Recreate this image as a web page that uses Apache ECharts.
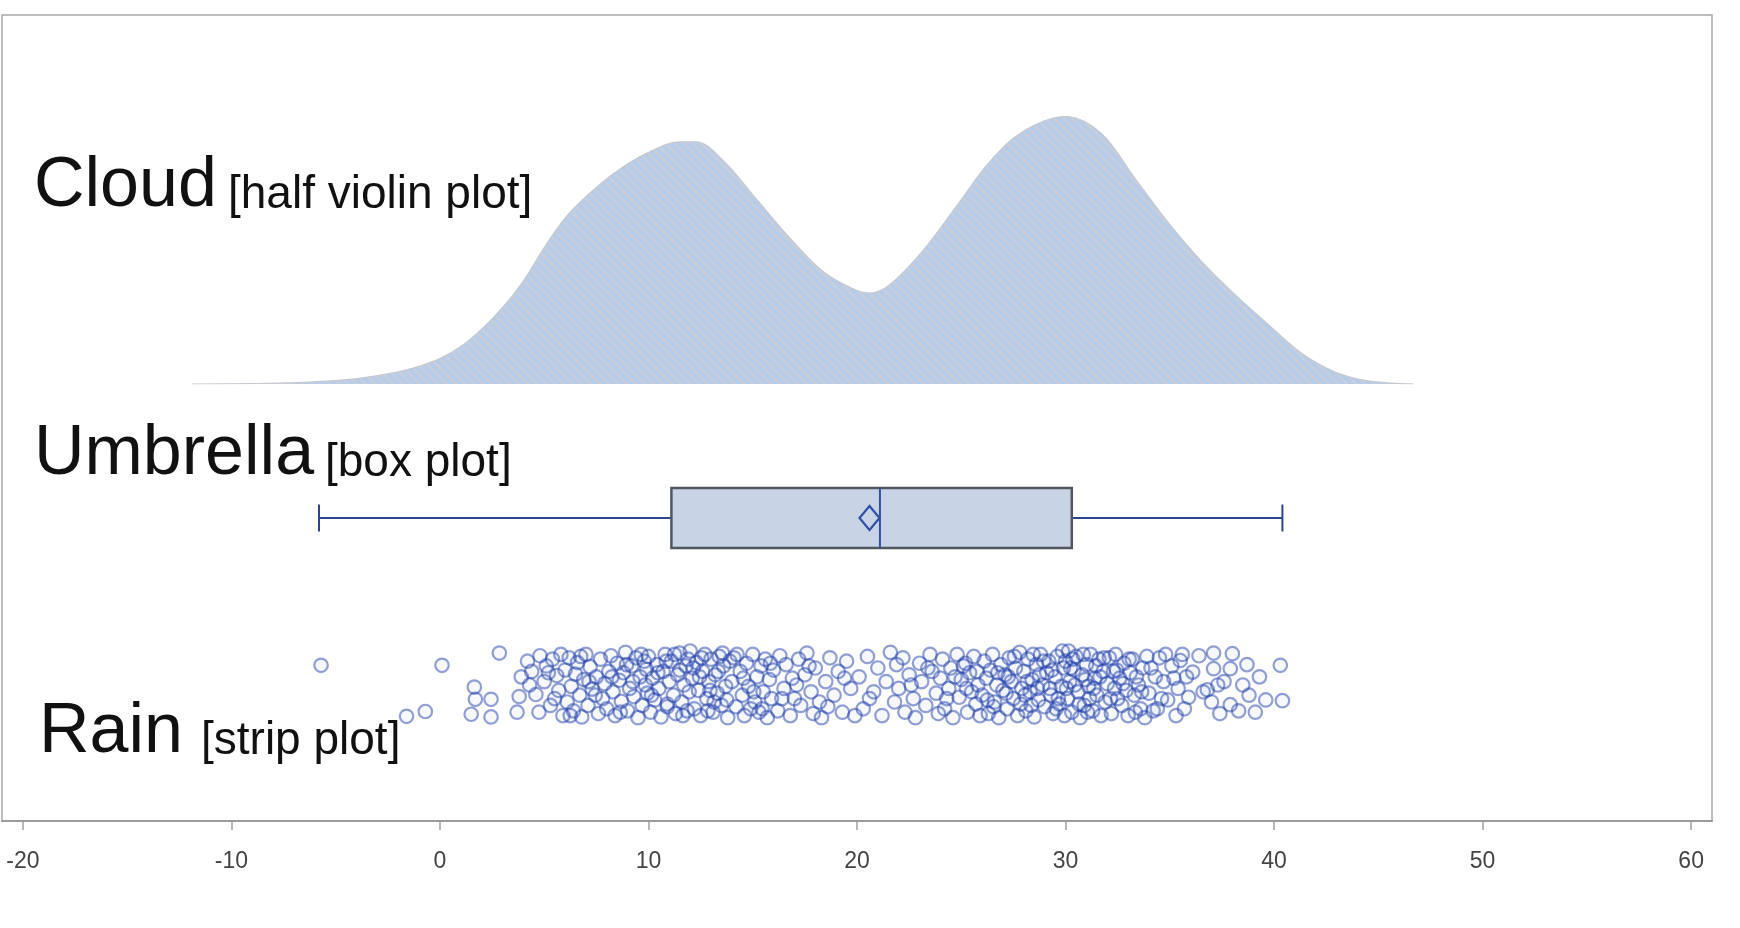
<!DOCTYPE html>
<html>
<head>
<meta charset="utf-8">
<script src="https://cdn.jsdelivr.net/npm/echarts@6/dist/echarts.min.js"></script>
<style>
  html, body { margin: 0; padding: 0; background: #fff; }
  #chart { width: 1740px; height: 928px; }
</style>
</head>
<body>
<div id="chart"></div>
<script>
// ---- data ----
const xTicks = [-20, -10, 0, 10, 20, 30, 40, 50, 60];

// Kernel density of the sample (relative height, peak = 1)
const cloudDensity = [
  [-11.9, 0], [-8.5, 0.002], [-6.5, 0.006], [-4, 0.02], [-2, 0.045], [-1, 0.066],
  [0, 0.095], [1, 0.14], [2, 0.205], [3, 0.285], [4, 0.385], [5, 0.51], [6, 0.62],
  [7, 0.70], [8.3, 0.785], [9.9, 0.862], [11.5, 0.905], [12.3, 0.905], [13.6, 0.834],
  [15.2, 0.689], [16.8, 0.544], [18.4, 0.419], [20, 0.349], [20.6, 0.34], [21.6, 0.373],
  [23.2, 0.502], [24.8, 0.668], [26.4, 0.834], [28, 0.946], [30, 1.0], [31.7, 0.938],
  [33.3, 0.772], [34.9, 0.606], [36.5, 0.46], [38.1, 0.336], [39.7, 0.224],
  [41.3, 0.116], [42.9, 0.046], [44.5, 0.012], [46.7, 0]
];

// Box plot summary: min, Q1, median, Q3, max, and the mean
const boxStats = [-5.8, 11.1, 21.1, 30.3, 40.4];
const boxMean = 20.6;

// Raw observations: [value, vertical jitter 0..1]
const rainPoints = [
  [-5.7,0.79],
  [-1.6,0.04],[-0.7,0.11],
  [0.1,0.79],[1.5,0.07],[1.65,0.47],[1.7,0.29],
  [2.45,0.29],[2.45,0.03],[2.85,0.97],[3.7,0.10],[3.8,0.33],[3.9,0.62],
  [4.6,0.36],[4.75,0.10],[4.2,0.85],[4.4,0.70],[4.8,0.93],[5.0,0.55],[5.1,0.78],[5.3,0.20],[5.4,0.88],[5.6,0.64],[5.7,0.42],[5.8,0.95],[5.9,0.05],[5.5,0.30],
  [6.0,0.72],[6.1,0.25],[6.2,0.90],[6.3,0.48],[6.4,0.12],[6.5,0.66],[6.6,0.83],[6.7,0.35],[6.8,0.03],[6.9,0.58],[7.0,0.95],[7.1,0.20],[7.2,0.77],[7.3,0.44],[7.5,0.62],[7.6,0.08],[7.7,0.88],[7.8,0.30],[7.9,0.52],
  [8.0,0.15],[8.1,0.70],[8.2,0.93],[8.3,0.40],[8.4,0.05],[8.5,0.82],[8.6,0.57],[8.7,0.26],[8.8,0.68],[8.9,0.98],[9.0,0.12],[9.1,0.45],[9.2,0.78],[9.3,0.33],[9.4,0.90],[9.5,0.02],[9.6,0.62],[9.7,0.20],[9.8,0.85],[9.85,0.50],[9.9,0.73],[9.95,0.38],
  [10.0,0.92],[10.1,0.10],[10.2,0.60],[10.3,0.28],[10.4,0.80],[10.5,0.45],[10.6,0.03],[10.7,0.70],[10.8,0.95],[10.9,0.18],[11.0,0.55],[11.1,0.85],[11.2,0.35],[11.3,0.08],[11.4,0.65],[11.5,0.97],[11.6,0.25],[11.7,0.50],[11.8,0.78],[11.85,0.12],[11.9,0.88],[11.95,0.40],[11.5,0.72],[10.9,0.22],
  [12.0,1.0],[12.1,0.60],[12.2,0.15],[12.3,0.83],[12.4,0.42],[12.5,0.05],[12.6,0.70],[12.7,0.95],[12.8,0.30],[12.9,0.55],[13.0,0.88],[13.1,0.10],[13.2,0.65],[13.3,0.38],[13.4,0.92],[13.5,0.20],[13.6,0.78],[13.7,0.48],[13.8,0.02],[13.9,0.85],[12.45,0.62],[13.15,0.25],[13.55,0.97],[12.85,0.12],
  [14.0,0.55],[14.1,0.90],[14.2,0.18],[14.4,0.70],[14.5,0.35],[14.6,0.05],[14.7,0.82],[14.8,0.48],[15.0,0.95],[15.1,0.25],[15.2,0.62],[15.3,0.10],[15.4,0.78],[15.5,0.40],[15.6,0.88],[15.7,0.02],[15.8,0.58],[15.9,0.30],[14.9,0.15],
  [16.0,0.72],[16.2,0.12],[16.3,0.93],[16.5,0.45],[16.6,0.80],[16.8,0.05],[16.9,0.60],[17.0,0.30],[17.2,0.88],[17.3,0.20],[17.5,0.65],[17.6,0.97],[17.8,0.40],[17.9,0.08],
  [18.0,0.75],[18.2,0.25],[18.3,0.02],[18.5,0.55],[18.7,0.90],[18.9,0.35],[19.1,0.70],[19.3,0.10],[19.5,0.85],[19.7,0.45],[19.9,0.05],
  [20.1,0.62],[20.3,0.15],[20.5,0.92],[20.8,0.40],[21.0,0.75],[21.2,0.05],[21.4,0.55],[21.6,0.98],[21.8,0.25],[21.9,0.80],
  [22.0,0.45],[22.2,0.90],[22.3,0.10],[22.5,0.65],[22.7,0.30],[22.8,0.02],[23.0,0.82],[23.1,0.55],[23.3,0.20],[23.5,0.95],[23.6,0.70],[23.8,0.38],[23.9,0.08],
  [24.0,0.60],[24.1,0.88],[24.2,0.15],[24.4,0.45],[24.5,0.75],[24.6,0.02],[24.8,0.95],[24.9,0.32],[25.0,0.58],[25.2,0.82],[25.3,0.10],[25.4,0.68],[25.5,0.40],[25.6,0.92],[25.7,0.22],[25.8,0.50],[25.9,0.05],[25.1,0.78],
  [26.0,0.35],[26.1,0.85],[26.2,0.60],[26.3,0.08],[26.4,0.72],[26.5,0.95],[26.6,0.25],[26.7,0.50],[26.8,0.02],[26.9,0.80],[27.0,0.42],[27.1,0.65],[27.2,0.15],[27.3,0.90],[27.4,0.55],[27.5,0.30],[27.6,0.75],[27.7,0.05],[27.8,0.98],[27.9,0.45],[26.55,0.18],[27.25,0.62],[27.85,0.22],
  [28.0,0.70],[28.1,0.12],[28.2,0.88],[28.3,0.40],[28.4,0.58],[28.5,0.03],[28.6,0.80],[28.7,0.28],[28.8,0.95],[28.9,0.50],[29.0,0.18],[29.1,0.68],[29.2,0.85],[29.3,0.35],[29.4,0.08],[29.5,0.62],[29.6,0.92],[29.7,0.22],[29.8,0.48],[29.9,0.75],[28.15,0.55],[28.75,0.65],[29.25,0.45],[29.55,0.15],[29.85,1.0],[28.45,0.95],
  [30.0,0.85],[30.1,0.30],[30.15,1.0],[30.2,0.55],[30.3,0.10],[30.4,0.72],[30.5,0.92],[30.6,0.40],[30.7,0.02],[30.8,0.65],[30.9,0.20],[31.0,0.80],[31.1,0.48],[31.2,0.95],[31.3,0.12],[31.4,0.60],[31.5,0.35],[31.6,0.88],[31.7,0.05],[31.8,0.70],[31.9,0.25],[30.45,0.50],[30.95,0.58],[31.45,0.78],[31.15,0.30],[30.25,0.75],
  [32.0,0.52],[32.1,0.90],[32.2,0.08],[32.3,0.70],[32.4,0.95],[32.5,0.30],[32.6,0.60],[32.7,0.20],[32.8,0.82],[32.9,0.42],[33.0,0.05],[33.1,0.68],[33.2,0.88],[33.3,0.35],[33.5,0.50],[33.6,0.15],[33.7,0.75],[33.8,0.02],[33.9,0.92],[32.35,0.45],[33.4,0.62],
  [34.0,0.38],[34.1,0.75],[34.2,0.12],[34.4,0.15],[34.5,0.90],[34.7,0.55],[34.9,0.28],[35.1,0.78],[35.3,0.05],[35.4,0.45],[35.5,0.86],[35.7,0.15],[35.8,0.62],[35.9,0.32],[34.8,0.95],
  [36.1,0.69],[36.4,0.93],[36.8,0.43],[37.0,0.25],[37.1,0.97],[37.1,0.74],[37.4,0.08],[37.6,0.55],[37.9,0.21],[37.9,0.74],[38.0,0.96],
  [38.5,0.50],[38.3,0.12],[38.8,0.35],[39.1,0.10],[38.7,0.80],[39.3,0.62],[39.6,0.28],
  [40.3,0.79],[40.4,0.27],
  [4.3,0.50],[5.2,0.68],[6.25,0.05],[6.75,0.92],[7.15,0.55],[7.45,0.35],[8.25,0.62],[8.65,0.10],[8.95,0.80],[9.25,0.55],[9.65,0.95],
  [10.15,0.35],[10.45,0.68],[10.85,0.85],[11.25,0.95],[11.65,0.05],[12.15,0.75],[12.55,0.90],[12.95,0.42],[13.35,0.70],[13.75,0.28],
  [14.25,0.95],[14.55,0.60],[15.05,0.40],[15.45,0.15],[15.85,0.82],[16.4,0.30],[17.1,0.50],[17.7,0.78],[18.6,0.18],[19.4,0.60],
  [20.6,0.30],[22.6,0.50],[23.4,0.75],[24.3,0.30],[24.7,0.62],[25.25,0.45],[25.75,0.70],[26.25,0.28],[26.75,0.68],[27.15,0.38],
  [27.55,0.92],[28.05,0.35],[28.35,0.20],[28.65,0.45],[28.95,0.85],[29.35,0.72],[29.65,0.30],[29.95,0.05],[30.05,0.45],[30.35,0.88],
  [30.65,0.22],[30.85,0.95],[31.05,0.10],[31.35,0.45],[31.65,0.62],[31.85,0.90],[32.15,0.30],[32.45,0.72],[32.75,0.52],[33.05,0.88],
  [33.35,0.10],[33.65,0.40],[34.3,0.62],[34.6,0.30],[35.2,0.60],[35.6,0.95],[36.6,0.40],[37.3,0.50]
];

const rowLabels = ['Cloud', 'Umbrella', 'Rain'];
const rowNotes = ['[half violin plot]', '[box plot]', '[strip plot]'];

// ---- styling helpers ----
const X_MIN = -21, X_MAX = 61;
const GRID_LEFT = 2, GRID_RIGHT = 28;
const FONT = '"Liberation Sans", Arial, Helvetica, sans-serif';
const BOX_FILL = '#c9d3e6';
const BLUE = '#3050a6';

// Diagonal hatch used to fill the density cloud
function hatchPattern() {
  const s = 9;
  const c = document.createElement('canvas');
  c.width = c.height = s;
  const g = c.getContext('2d');
  g.fillStyle = '#b6cdea';
  g.fillRect(0, 0, s, s);
  g.strokeStyle = '#c8cedb';
  g.lineWidth = 2.5;
  g.beginPath();
  for (const o of [-s, 0, s]) { g.moveTo(o, 0); g.lineTo(o + s, s); }
  g.stroke();
  return c;
}

function hiddenX(gridIndex) {
  return { type: 'value', gridIndex, min: X_MIN, max: X_MAX, show: false };
}

const chart = echarts.init(document.getElementById('chart'), null, { renderer: 'canvas' });

const option = {
  animation: false,
  backgroundColor: '#fff',
  grid: [
    // frame with the shared value axis
    { left: GRID_LEFT, right: GRID_RIGHT, top: 15, bottom: 107, show: true,
      borderColor: '#a8a8a8', borderWidth: 1.5, backgroundColor: 'transparent' },
    // cloud
    { left: GRID_LEFT, right: GRID_RIGHT, top: 116.5, bottom: 928 - 384 },
    // umbrella
    { left: GRID_LEFT, right: GRID_RIGHT, top: 470, bottom: 928 - 566 },
    // rain
    { left: GRID_LEFT, right: GRID_RIGHT, top: 651, bottom: 928 - 719 }
  ],
  xAxis: [
    {
      type: 'value', gridIndex: 0, min: X_MIN, max: X_MAX,
      splitLine: { show: false },
      axisLine: { show: true, lineStyle: { color: '#9c9c9c', width: 2 } },
      axisTick: { show: true, length: 9, customValues: xTicks, lineStyle: { color: '#a0a0a0', width: 1.5 } },
      axisLabel: { show: true, customValues: xTicks, margin: 29, color: '#444', fontSize: 23, fontFamily: FONT }
    },
    hiddenX(1), hiddenX(2), hiddenX(3)
  ],
  yAxis: [
    { type: 'value', gridIndex: 0, min: 0, max: 1, show: false },
    { type: 'value', gridIndex: 1, min: 0, max: 1, show: false },
    { type: 'category', gridIndex: 2, data: ['Umbrella'], show: false },
    { type: 'value', gridIndex: 3, min: 0, max: 1, show: false }
  ],
  series: [
    {
      name: 'Cloud', type: 'line', xAxisIndex: 1, yAxisIndex: 1,
      data: cloudDensity, smooth: 0.35, symbol: 'none',
      lineStyle: { color: '#c6c8cf', width: 1.2 },
      areaStyle: { color: { image: hatchPattern(), repeat: 'repeat' }, opacity: 1 },
      silent: true
    },
    {
      name: 'Umbrella', type: 'custom', xAxisIndex: 2, yAxisIndex: 2,
      data: [[0, ...boxStats, boxMean]],
      encode: { y: 0, x: [1, 2, 3, 4, 5, 6] },
      silent: true,
      renderItem(params, api) {
        const cat = api.value(0);
        const cy = api.coord([api.value(1), cat])[1];
        const px = i => api.coord([api.value(i), cat])[0];
        const xMin = px(1), xQ1 = px(2), xMed = px(3), xQ3 = px(4), xMax = px(5), xMean = px(6);
        const hb = 30, hc = 13.5;
        const whisker = { stroke: '#2d4590', lineWidth: 2 };
        return {
          type: 'group',
          children: [
            { type: 'line', shape: { x1: xMin, y1: cy, x2: xQ1, y2: cy }, style: whisker },
            { type: 'line', shape: { x1: xQ3, y1: cy, x2: xMax, y2: cy }, style: whisker },
            { type: 'line', shape: { x1: xMin, y1: cy - hc, x2: xMin, y2: cy + hc }, style: whisker },
            { type: 'line', shape: { x1: xMax, y1: cy - hc, x2: xMax, y2: cy + hc }, style: whisker },
            { type: 'rect', shape: { x: xQ1, y: cy - hb, width: xQ3 - xQ1, height: 2 * hb },
              style: { fill: BOX_FILL, stroke: '#52565e', lineWidth: 2.5 } },
            { type: 'line', shape: { x1: xMed, y1: cy - hb, x2: xMed, y2: cy + hb },
              style: { stroke: BLUE, lineWidth: 2 } },
            { type: 'polygon',
              shape: { points: [[xMean, cy - 12], [xMean + 10, cy], [xMean, cy + 12], [xMean - 10, cy]] },
              style: { fill: BOX_FILL, stroke: BLUE, lineWidth: 2.2 } }
          ]
        };
      }
    },
    {
      name: 'Rain', type: 'scatter', xAxisIndex: 3, yAxisIndex: 3,
      data: rainPoints, symbol: 'circle', symbolSize: 13.5,
      itemStyle: { color: 'rgba(60,100,200,0.06)', borderColor: 'rgba(28,58,170,0.6)', borderWidth: 2.2 },
      silent: true
    }
  ],
  graphic: [
    { type: 'text', x: 34, y: 187, style: { text: rowLabels[0], font: '70px ' + FONT, fill: '#111', verticalAlign: 'middle' } },
    { type: 'text', x: 228, y: 195, style: { text: rowNotes[0], font: '46px ' + FONT, fill: '#111', verticalAlign: 'middle' } },
    { type: 'text', x: 34, y: 455, style: { text: rowLabels[1], font: '70px ' + FONT, fill: '#111', verticalAlign: 'middle' } },
    { type: 'text', x: 325, y: 463, style: { text: rowNotes[1], font: '46px ' + FONT, fill: '#111', verticalAlign: 'middle' } },
    { type: 'text', x: 39, y: 733, style: { text: rowLabels[2], font: '70px ' + FONT, fill: '#111', verticalAlign: 'middle' } },
    { type: 'text', x: 201, y: 741, style: { text: rowNotes[2], font: '46px ' + FONT, fill: '#111', verticalAlign: 'middle' } }
  ]
};

chart.setOption(option);
</script>
</body>
</html>
